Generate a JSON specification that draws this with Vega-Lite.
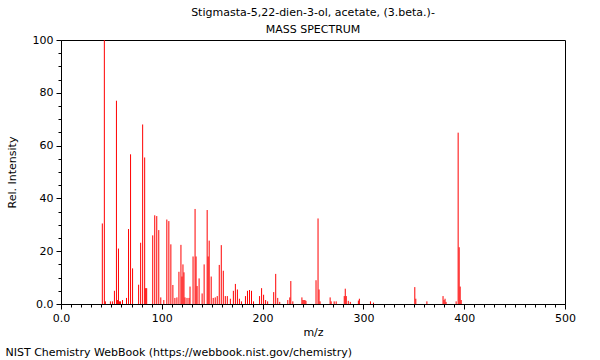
{
  "$schema": "https://vega.github.io/schema/vega-lite/v6.json",
  "autosize": "pad",
  "padding": {"left": 5, "top": 6, "right": 23, "bottom": 2},
  "background": "white",
  "config": {
    "font": "DejaVu Sans",
    "view": {"stroke": "#000000", "strokeWidth": 1},
    "axis": {"labelFont": "DejaVu Sans", "titleFont": "DejaVu Sans", "labelColor": "#000", "titleColor": "#000", "domainColor": "#000", "tickColor": "#000", "labelFontSize": 11, "titleFontSize": 11, "titleFontWeight": "normal", "grid": false}
  },
  "title": {"text": "NIST Chemistry WebBook (https://webbook.nist.gov/chemistry)", "orient": "bottom", "anchor": "start", "fontSize": 11, "fontWeight": "normal", "font": "DejaVu Sans", "color": "#000", "offset": 9},
  "vconcat": [
    {
      "width": 504,
      "height": 264,
      "title": {"text": ["Stigmasta-5,22-dien-3-ol, acetate, (3.beta.)-", "MASS SPECTRUM"], "fontSize": 11, "fontWeight": "normal", "font": "DejaVu Sans", "color": "#000", "lineHeight": 17, "offset": -1},
      "data": {"values": [
        {"mz": 41, "i": 30.5}, {"mz": 43, "i": 100}, {"mz": 44, "i": 1.0}, {"mz": 49, "i": 1.0}, {"mz": 51, "i": 1.0},
        {"mz": 53, "i": 5}, {"mz": 55, "i": 77}, {"mz": 56, "i": 1.5}, {"mz": 57, "i": 21}, {"mz": 58, "i": 1},
        {"mz": 59, "i": 1}, {"mz": 61, "i": 1.5}, {"mz": 65, "i": 2.3}, {"mz": 67, "i": 28.4}, {"mz": 69, "i": 56.7},
        {"mz": 71, "i": 13.5}, {"mz": 77, "i": 7.3}, {"mz": 79, "i": 23.2}, {"mz": 81, "i": 68}, {"mz": 83, "i": 55.5},
        {"mz": 84, "i": 6}, {"mz": 85, "i": 6}, {"mz": 91, "i": 26}, {"mz": 93, "i": 33.6}, {"mz": 95, "i": 33.3},
        {"mz": 97, "i": 28}, {"mz": 99, "i": 2.5}, {"mz": 102, "i": 1.5}, {"mz": 105, "i": 32}, {"mz": 107, "i": 31.4},
        {"mz": 109, "i": 22.6}, {"mz": 111, "i": 7.2}, {"mz": 113, "i": 2.3}, {"mz": 115, "i": 2.5}, {"mz": 117, "i": 12.2},
        {"mz": 119, "i": 22.4}, {"mz": 120, "i": 10.4}, {"mz": 121, "i": 15}, {"mz": 122, "i": 12}, {"mz": 123, "i": 2.5},
        {"mz": 125, "i": 2.3}, {"mz": 127, "i": 2.3}, {"mz": 128, "i": 6.6}, {"mz": 131, "i": 18}, {"mz": 133, "i": 36},
        {"mz": 134, "i": 18}, {"mz": 135, "i": 6.8}, {"mz": 137, "i": 9.7}, {"mz": 140, "i": 4}, {"mz": 142, "i": 15},
        {"mz": 145, "i": 35.6}, {"mz": 146, "i": 18}, {"mz": 147, "i": 24}, {"mz": 149, "i": 10.4}, {"mz": 151, "i": 2.3},
        {"mz": 153, "i": 2.5}, {"mz": 155, "i": 3}, {"mz": 157, "i": 14.8}, {"mz": 159, "i": 22.3}, {"mz": 161, "i": 12.6},
        {"mz": 163, "i": 3}, {"mz": 165, "i": 3}, {"mz": 168, "i": 2}, {"mz": 171, "i": 5}, {"mz": 173, "i": 7.6},
        {"mz": 175, "i": 5.5}, {"mz": 177, "i": 2}, {"mz": 179, "i": 1}, {"mz": 183, "i": 3}, {"mz": 185, "i": 5},
        {"mz": 187, "i": 5.3}, {"mz": 189, "i": 5}, {"mz": 191, "i": 1}, {"mz": 197, "i": 3}, {"mz": 199, "i": 6},
        {"mz": 201, "i": 3.5}, {"mz": 203, "i": 1.5}, {"mz": 205, "i": 1}, {"mz": 211, "i": 4.5}, {"mz": 213, "i": 11.4},
        {"mz": 215, "i": 2.3}, {"mz": 217, "i": 0.8}, {"mz": 225, "i": 1.5}, {"mz": 227, "i": 2.5}, {"mz": 228, "i": 8.7},
        {"mz": 230, "i": 1}, {"mz": 239, "i": 2.5}, {"mz": 240, "i": 1.5}, {"mz": 241, "i": 1.5}, {"mz": 242, "i": 1.5},
        {"mz": 243, "i": 1.2}, {"mz": 253, "i": 9}, {"mz": 255, "i": 32.4}, {"mz": 256, "i": 5.5}, {"mz": 257, "i": 1},
        {"mz": 267, "i": 2.5}, {"mz": 268, "i": 1}, {"mz": 271, "i": 1}, {"mz": 273, "i": 1}, {"mz": 281, "i": 3},
        {"mz": 282, "i": 5.8}, {"mz": 283, "i": 3}, {"mz": 285, "i": 1.2}, {"mz": 287, "i": 0.8}, {"mz": 295, "i": 1.3},
        {"mz": 296, "i": 2}, {"mz": 307, "i": 1}, {"mz": 310, "i": 0.5}, {"mz": 351, "i": 6.4}, {"mz": 352, "i": 2},
        {"mz": 363, "i": 1}, {"mz": 379, "i": 3}, {"mz": 380, "i": 1.5}, {"mz": 381, "i": 2}, {"mz": 382, "i": 0.8},
        {"mz": 392, "i": 1}, {"mz": 394, "i": 64.9}, {"mz": 395, "i": 21.5}, {"mz": 396, "i": 6.6}, {"mz": 397, "i": 1.5}
      ]},
      "mark": {"type": "rule", "color": "#ff0000", "strokeWidth": 1},
      "encoding": {
        "x": {"field": "mz", "type": "quantitative", "scale": {"domain": [0, 500], "nice": false, "zero": false}, "title": "m/z",
          "axis": {"values": [0,10,20,30,40,50,60,70,80,90,100,110,120,130,140,150,160,170,180,190,200,210,220,230,240,250,260,270,280,290,300,310,320,330,340,350,360,370,380,390,400,410,420,430,440,450,460,470,480,490,500],
            "labelExpr": "datum.value % 100 === 0 ? (datum.value === 0 ? '0.0' : datum.label) : ''",
            "labelOverlap": false, "labelFlush": false, "labelPadding": 3, "titlePadding": 3,
            "tickSize": {"condition": {"test": "datum.value % 100 === 0", "value": 5}, "value": 3}}},
        "y": {"field": "i", "type": "quantitative", "scale": {"domain": [0, 100], "nice": false}, "title": "Rel. Intensity",
          "axis": {"values": [0,5,10,15,20,25,30,35,40,45,50,55,60,65,70,75,80,85,90,95,100],
            "labelExpr": "datum.value % 20 === 0 ? (datum.value === 0 ? '0.0' : datum.label) : ''",
            "labelOverlap": false, "labelFlush": false, "labelPadding": 3, "titlePadding": 15,
            "tickSize": {"condition": {"test": "datum.value % 20 === 0", "value": 5}, "value": 3}}},
        "y2": {"datum": 0}
      }
    }
  ]
}
